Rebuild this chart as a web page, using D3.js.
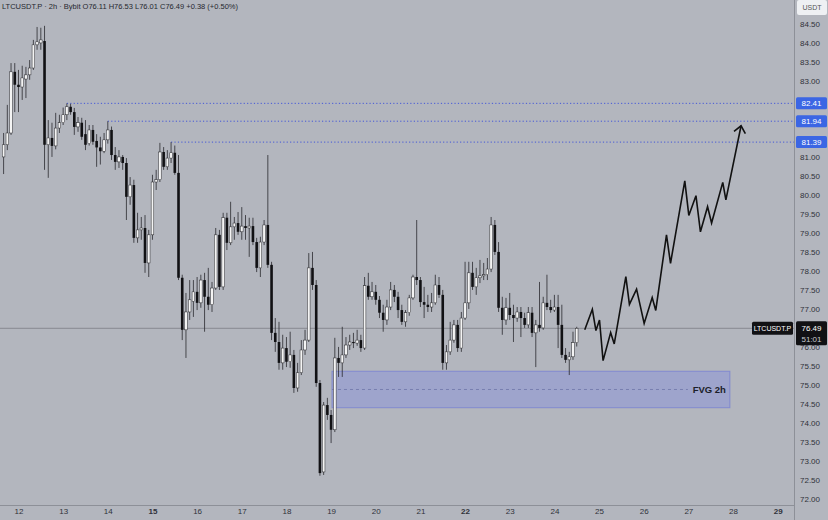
<!DOCTYPE html>
<html>
<head>
<meta charset="utf-8">
<script src="https://cdn.jsdelivr.net/npm/d3@7"></script>
<style>
  body { margin: 0; background: #b3b6be; }
  svg { display: block; font-family: "Liberation Sans", Arial, sans-serif; }
</style>
</head>
<body>
<div id="chart"></div>
<script>
// 2h candles, first one opens Jul 11 16:00 (UTC), one every 2 hours
const opens = [
  81.00, 81.32, 81.63, 83.24, 82.90, 82.84, 83.05, 83.16, 83.34, 83.95,
  84.00, 84.05, 81.32, 81.50, 81.29, 81.76, 81.90, 82.11, 82.32, 82.18,
  81.79, 81.90, 81.60, 81.35, 81.71, 81.42, 81.25, 81.15, 81.45, 81.71,
  81.05, 80.87, 81.00, 80.84, 79.95, 80.26, 78.87, 79.08, 79.13, 78.21,
  78.95, 80.34, 80.40, 81.13, 80.74, 80.97, 81.11, 80.58, 77.82, 76.45,
  76.92, 77.20, 77.45, 77.16, 77.76, 77.32, 77.11, 77.55, 78.95, 77.58,
  79.40, 78.74, 79.16, 79.26, 79.03, 79.18, 79.13, 79.18, 78.76, 78.08,
  78.76, 79.21, 78.16, 76.37, 76.13, 75.58, 75.97, 75.61, 75.79, 74.92,
  75.32, 75.92, 76.18, 78.08, 77.63, 75.05, 72.71, 74.47, 74.21, 73.82,
  75.71, 75.58, 75.79, 76.05, 76.13, 76.10, 76.18, 75.97, 77.61, 77.32,
  77.45, 77.24, 76.90, 76.71, 77.05, 77.50, 77.32, 76.97, 76.66, 76.90,
  77.29, 77.84, 77.76, 77.18, 77.11, 77.05, 77.16, 77.63, 77.37, 75.58,
  75.87, 76.18, 76.58, 75.97, 76.76, 77.16, 77.95, 77.58, 77.82, 77.87,
  77.90, 78.05, 79.21, 78.50, 77.03, 76.71, 77.03, 76.84, 76.76, 76.92,
  76.76, 76.58, 76.90, 76.37, 76.58, 76.50, 77.16, 77.05, 76.97, 77.05,
  76.58, 75.79, 75.66, 75.74, 76.11
];
const highs = [
  81.63, 82.37, 83.47, 83.47, 83.29, 83.40, 83.37, 83.55, 84.08, 84.42,
  84.40, 84.45, 81.97, 81.90, 82.16, 82.11, 82.30, 82.41, 82.40, 82.29,
  82.05, 82.03, 81.97, 81.84, 81.84, 81.60, 81.53, 81.63, 81.94, 81.80,
  81.26, 81.18, 81.05, 80.97, 80.47, 80.40, 79.53, 79.42, 79.47, 79.08,
  80.53, 80.66, 81.37, 81.26, 81.18, 81.39, 81.30, 81.05, 77.90, 77.42,
  77.76, 77.76, 77.84, 77.90, 77.95, 78.08, 77.71, 79.13, 79.08, 79.53,
  79.53, 79.82, 79.42, 79.55, 79.68, 79.47, 79.40, 79.40, 78.87, 78.90,
  79.34, 81.05, 78.24, 76.76, 76.66, 76.32, 76.26, 76.40, 75.92, 75.58,
  76.18, 76.45, 78.47, 78.50, 77.76, 75.13, 74.55, 74.66, 74.34, 76.24,
  76.00, 76.53, 76.26, 76.32, 76.37, 76.45, 76.32, 77.84, 77.95, 77.71,
  77.63, 77.34, 77.11, 77.24, 77.71, 77.63, 77.45, 77.11, 76.97, 77.37,
  77.90, 79.34, 77.84, 77.58, 77.37, 77.42, 77.90, 77.84, 77.50, 76.05,
  76.66, 76.71, 76.71, 76.92, 78.24, 78.24, 78.24, 78.08, 78.29, 78.21,
  78.34, 79.42, 79.34, 78.76, 77.32, 77.29, 77.42, 77.11, 77.05, 77.05,
  76.90, 77.05, 77.05, 76.71, 77.71, 77.32, 77.90, 77.24, 77.37, 77.37,
  77.11, 75.97, 75.87, 76.40, 76.53
];
const lows = [
  80.55, 81.18, 81.58, 82.18, 82.18, 82.50, 82.55, 83.03, 83.29, 83.82,
  83.82, 80.66, 80.45, 81.00, 81.20, 81.63, 81.84, 81.97, 82.11, 81.58,
  81.66, 81.45, 81.18, 81.30, 81.32, 80.74, 80.80, 81.10, 81.35, 80.92,
  80.66, 80.71, 80.66, 79.34, 79.74, 78.74, 78.74, 78.82, 77.95, 77.84,
  78.82, 80.13, 80.34, 80.66, 80.66, 80.84, 80.53, 77.76, 76.18, 75.71,
  76.71, 76.79, 76.97, 77.03, 76.40, 76.97, 76.92, 77.50, 77.50, 77.50,
  78.55, 78.68, 78.82, 78.95, 78.82, 78.82, 78.37, 78.68, 77.97, 77.84,
  78.68, 78.08, 76.18, 75.87, 75.40, 75.40, 75.47, 75.45, 74.79, 74.82,
  75.26, 75.79, 76.13, 77.50, 74.95, 72.61, 72.63, 74.08, 73.47, 73.76,
  75.21, 75.21, 75.71, 75.92, 75.97, 76.03, 75.87, 75.92, 77.24, 77.24,
  77.11, 76.76, 76.40, 76.58, 76.97, 77.18, 76.76, 76.58, 76.53, 76.82,
  77.24, 77.63, 77.05, 76.76, 76.92, 76.92, 77.11, 77.29, 75.40, 75.40,
  75.79, 76.11, 75.87, 75.87, 76.71, 77.00, 77.50, 77.37, 77.68, 77.76,
  77.76, 77.97, 78.42, 76.92, 76.32, 76.58, 76.71, 76.13, 76.66, 76.26,
  76.50, 76.50, 76.26, 75.47, 76.40, 76.45, 76.97, 76.90, 76.92, 75.97,
  75.71, 75.58, 75.26, 75.66, 76.01
];
const closes = [
  81.32, 81.63, 83.24, 82.90, 82.84, 83.08, 83.16, 83.34, 83.95, 84.03,
  84.08, 81.32, 81.50, 81.29, 81.76, 81.90, 82.11, 82.32, 82.18, 81.79,
  81.90, 81.53, 81.32, 81.71, 81.40, 81.25, 81.15, 81.45, 81.71, 81.05,
  80.87, 81.00, 80.84, 79.95, 80.26, 78.87, 79.08, 79.13, 78.21, 78.95,
  80.34, 80.40, 81.13, 80.74, 80.97, 81.11, 80.58, 77.82, 76.45, 76.92,
  77.24, 77.45, 77.16, 77.76, 77.32, 77.11, 77.55, 78.95, 77.58, 79.40,
  78.74, 79.16, 79.26, 79.03, 79.18, 79.13, 79.18, 78.76, 78.08, 78.76,
  79.21, 78.16, 76.37, 76.13, 75.58, 75.97, 75.61, 75.79, 74.92, 75.32,
  75.92, 76.18, 78.08, 77.63, 75.05, 72.68, 74.47, 74.21, 73.82, 75.71,
  75.58, 75.79, 76.05, 76.13, 76.10, 76.18, 75.97, 77.61, 77.32, 77.45,
  77.24, 76.90, 76.71, 77.05, 77.50, 77.32, 76.97, 76.66, 76.90, 77.29,
  77.84, 77.76, 77.18, 77.11, 77.05, 77.16, 77.63, 77.37, 75.58, 75.87,
  76.18, 76.58, 75.97, 76.76, 77.16, 77.95, 77.58, 77.82, 77.87, 77.90,
  78.05, 79.21, 78.50, 77.03, 76.71, 77.03, 76.84, 76.76, 76.92, 76.76,
  76.58, 76.90, 76.37, 76.58, 76.50, 77.16, 77.05, 76.97, 77.05, 76.58,
  75.79, 75.66, 75.74, 76.11, 76.49
];

// horizontal levels and the candle index where each starts
const levels = [82.41, 81.94, 81.39];
const levelStart = [17, 28, 45];

// FVG zone (July day numbers, fractional) and prices
const fvgDays = [19.02, 27.93];
const fvgPrices = [75.36, 74.40];

// projected path drawn by hand (July day, price)
const pathDays = [24.68, 24.85, 24.93, 25.01, 25.09, 25.26, 25.34, 25.60, 25.68, 25.84, 26.01, 26.19,
  26.27, 26.51, 26.60, 26.92, 27.01, 27.17, 27.27, 27.43, 27.52, 27.77, 27.84, 28.18];
const pathPrices = [76.45, 76.99, 76.43, 76.71, 75.64, 76.38, 76.08, 77.85, 77.12, 77.52, 76.62, 77.30,
  76.96, 78.95, 78.20, 80.37, 79.46, 79.98, 79.03, 79.69, 79.26, 80.33, 79.87, 81.82];

const lastPrice = 76.49;
const priceTicks = [72, 72.5, 73, 73.5, 74, 74.5, 75, 75.5, 76, 76.5, 77, 77.5, 78, 78.5,
  79, 79.5, 80, 80.5, 81, 81.5, 82, 82.5, 83, 83.5, 84, 84.5];
const dayTicks = [12, 13, 14, 15, 16, 17, 18, 19, 20, 21, 22, 23, 24, 25, 26, 27, 28, 29];
const boldDays = [15, 22, 29];

const W = 828, H = 520, plotW = 794, plotH = 505;
const bg = "#b3b6be";
const t0 = Date.UTC(2024, 6, 11, 16);
const step = 2 * 3600 * 1000;
const dayDate = d => new Date(Date.UTC(2024, 6, 1) + (d - 1) * 864e5);

const candles = opens.map((o, i) => ({
  t: new Date(t0 + i * step), o, h: highs[i], l: lows[i], c: closes[i]
}));

const svg = d3.select("#chart").append("svg")
  .attr("width", W)
  .attr("height", H);

svg.append("rect").attr("width", W).attr("height", H).attr("fill", bg);

const x = d3.scaleUtc()
  .domain([new Date(Date.UTC(2024, 6, 11, 14, 4)), new Date(Date.UTC(2024, 6, 29, 8, 46))])
  .range([0, plotW]);
const y = d3.scaleLinear()
  .domain([71.84, 85.13])
  .range([plotH, 0]);

svg.append("clipPath").attr("id", "plot")
  .append("rect").attr("width", plotW).attr("height", plotH);

const g = svg.append("g").attr("clip-path", "url(#plot)");

// last price line
g.append("line")
  .attr("x1", 0).attr("x2", plotW)
  .attr("y1", y(lastPrice)).attr("y2", y(lastPrice))
  .attr("stroke", "#7c7f87")
  .attr("stroke-width", 0.8);

// FVG box
const fvgX0 = x(dayDate(fvgDays[0])), fvgX1 = x(dayDate(fvgDays[1]));
g.append("rect")
  .attr("x", fvgX0)
  .attr("y", y(fvgPrices[0]))
  .attr("width", fvgX1 - fvgX0)
  .attr("height", y(fvgPrices[1]) - y(fvgPrices[0]))
  .attr("fill", "rgba(115,128,235,0.33)")
  .attr("stroke", "rgba(100,112,215,0.55)")
  .attr("stroke-width", 1);

const fvgMid = (fvgPrices[0] + fvgPrices[1]) / 2;
g.append("line")
  .attr("x1", fvgX0).attr("x2", fvgX1 - 42)
  .attr("y1", y(fvgMid)).attr("y2", y(fvgMid))
  .attr("stroke", "#6f76a8")
  .attr("stroke-width", 0.8)
  .attr("stroke-dasharray", "3,3");

g.append("text")
  .attr("x", fvgX1 - 4)
  .attr("y", y(fvgMid))
  .attr("dy", "0.35em")
  .attr("text-anchor", "end")
  .attr("font-size", 9.5)
  .attr("font-weight", "bold")
  .attr("fill", "#1c1e2a")
  .text("FVG 2h");

// dotted levels
levels.forEach((lv, k) => {
  g.append("line")
    .attr("x1", x(candles[levelStart[k]].t)).attr("x2", plotW)
    .attr("y1", y(lv)).attr("y2", y(lv))
    .attr("stroke", "#4457d8")
    .attr("stroke-width", 1)
    .attr("stroke-dasharray", "1.2,2.2");
});

// candles
const bw = (x(new Date(t0 + step)) - x(new Date(t0))) * 0.7;

g.selectAll(".wick")
  .data(candles)
  .join("line")
  .attr("class", "wick")
  .attr("x1", d => x(d.t)).attr("x2", d => x(d.t))
  .attr("y1", d => y(d.h)).attr("y2", d => y(d.l))
  .attr("stroke", "#2a2a2e")
  .attr("stroke-width", 0.8);

g.selectAll(".body")
  .data(candles)
  .join("rect")
  .attr("class", "body")
  .attr("x", d => x(d.t) - bw / 2)
  .attr("y", d => y(Math.max(d.o, d.c)))
  .attr("width", bw)
  .attr("height", d => Math.max(0.8, Math.abs(y(d.o) - y(d.c))))
  .attr("fill", d => d.c >= d.o ? "#f4f4f4" : "#111114")
  .attr("stroke", d => d.c >= d.o ? "#2a2a2e" : "none")
  .attr("stroke-width", 0.5);

// projection path
const pts = pathDays.map((d, i) => [x(dayDate(d)), y(pathPrices[i])]);
g.append("path")
  .attr("d", d3.line()(pts))
  .attr("fill", "none")
  .attr("stroke", "#111")
  .attr("stroke-width", 1.6)
  .attr("stroke-linejoin", "miter");

const tip = pts[pts.length - 1], prev = pts[pts.length - 2];
const ang = Math.atan2(tip[1] - prev[1], tip[0] - prev[0]);
const arm = 9;
const arms = [ang + Math.PI - 0.7, ang + Math.PI + 0.7].map(a => [tip[0] + arm * Math.cos(a), tip[1] + arm * Math.sin(a)]);
g.append("path")
  .attr("d", d3.line()([arms[0], tip, arms[1]]))
  .attr("fill", "none")
  .attr("stroke", "#111")
  .attr("stroke-width", 1.6);

// axes frame
svg.append("line").attr("x1", plotW + 0.5).attr("x2", plotW + 0.5).attr("y1", 0).attr("y2", H)
  .attr("stroke", "#8d9098");
svg.append("line").attr("x1", 0).attr("x2", plotW).attr("y1", plotH + 0.5).attr("y2", plotH + 0.5)
  .attr("stroke", "#8d9098");

// price axis (labels sitting under a level/price tag are hidden, as in the app)
const tagged = levels.concat([lastPrice]);
const yAxis = svg.append("g")
  .attr("transform", `translate(${plotW},0)`)
  .call(d3.axisRight(y).tickValues(priceTicks).tickSize(0).tickPadding(16).tickFormat(d3.format(".2f")));
yAxis.select(".domain").remove();
yAxis.selectAll("text")
  .attr("text-anchor", "middle")
  .attr("font-size", 8)
  .attr("fill", "#30323a")
  .attr("display", d => tagged.some(p => Math.abs(y(p) - y(d)) < 11) ? "none" : null);

// time axis
const xAxis = svg.append("g")
  .attr("transform", `translate(0,${plotH})`)
  .call(d3.axisBottom(x).tickValues(dayTicks.map(d => dayDate(d))).tickSize(0).tickPadding(3)
    .tickFormat(d3.utcFormat("%-d")));
xAxis.select(".domain").remove();
xAxis.selectAll("text")
  .attr("font-size", 8)
  .attr("fill", "#30323a")
  .attr("font-weight", d => boldDays.includes(d.getUTCDate()) ? "bold" : "normal");

// level labels on the price axis
levels.forEach(lv => {
  svg.append("rect")
    .attr("x", plotW + 2).attr("y", y(lv) - 6)
    .attr("width", 31).attr("height", 12)
    .attr("rx", 1.5)
    .attr("fill", "#3b66e4");
  svg.append("text")
    .attr("x", plotW + 17.5).attr("y", y(lv))
    .attr("dy", "0.35em")
    .attr("text-anchor", "middle")
    .attr("font-size", 8)
    .attr("fill", "#fff")
    .text(d3.format(".2f")(lv));
});

// last price labels
const ly = y(lastPrice);
svg.append("rect").attr("x", 752).attr("y", ly - 6.5).attr("width", 41).attr("height", 13)
  .attr("rx", 1.5).attr("fill", "#111114");
svg.append("text").attr("x", 772.5).attr("y", ly).attr("dy", "0.35em")
  .attr("text-anchor", "middle").attr("font-size", 7).attr("fill", "#fff").text("LTCUSDT.P");
svg.append("rect").attr("x", plotW + 2).attr("y", ly - 7).attr("width", 31).attr("height", 24)
  .attr("rx", 1.5).attr("fill", "#111114");
svg.append("text").attr("x", plotW + 17.5).attr("y", ly).attr("dy", "0.35em")
  .attr("text-anchor", "middle").attr("font-size", 8).attr("fill", "#fff").text(d3.format(".2f")(lastPrice));
svg.append("text").attr("x", plotW + 17.5).attr("y", ly + 11).attr("dy", "0.35em")
  .attr("text-anchor", "middle").attr("font-size", 8).attr("fill", "#c9cbd0").text("51:01");

// currency box
svg.append("rect").attr("x", plotW + 3).attr("y", 0).attr("width", 30).attr("height", 15)
  .attr("rx", 2).attr("fill", "#eef0f3");
svg.append("text").attr("x", plotW + 18).attr("y", 7.5).attr("dy", "0.35em")
  .attr("text-anchor", "middle").attr("font-size", 7).attr("fill", "#555").text("USDT");

// legend line
const last = candles[candles.length - 1];
svg.append("text")
  .attr("x", 2).attr("y", 6).attr("dy", "0.35em")
  .attr("font-size", 7.5)
  .attr("fill", "#26282f")
  .text(`LTCUSDT.P · 2h · Bybit  O${last.o.toFixed(2)} H${last.h.toFixed(2)} L${last.l.toFixed(2)} C${last.c.toFixed(2)} +${(last.c - last.o).toFixed(2)} (+0.50%)`);
</script>
</body>
</html>
